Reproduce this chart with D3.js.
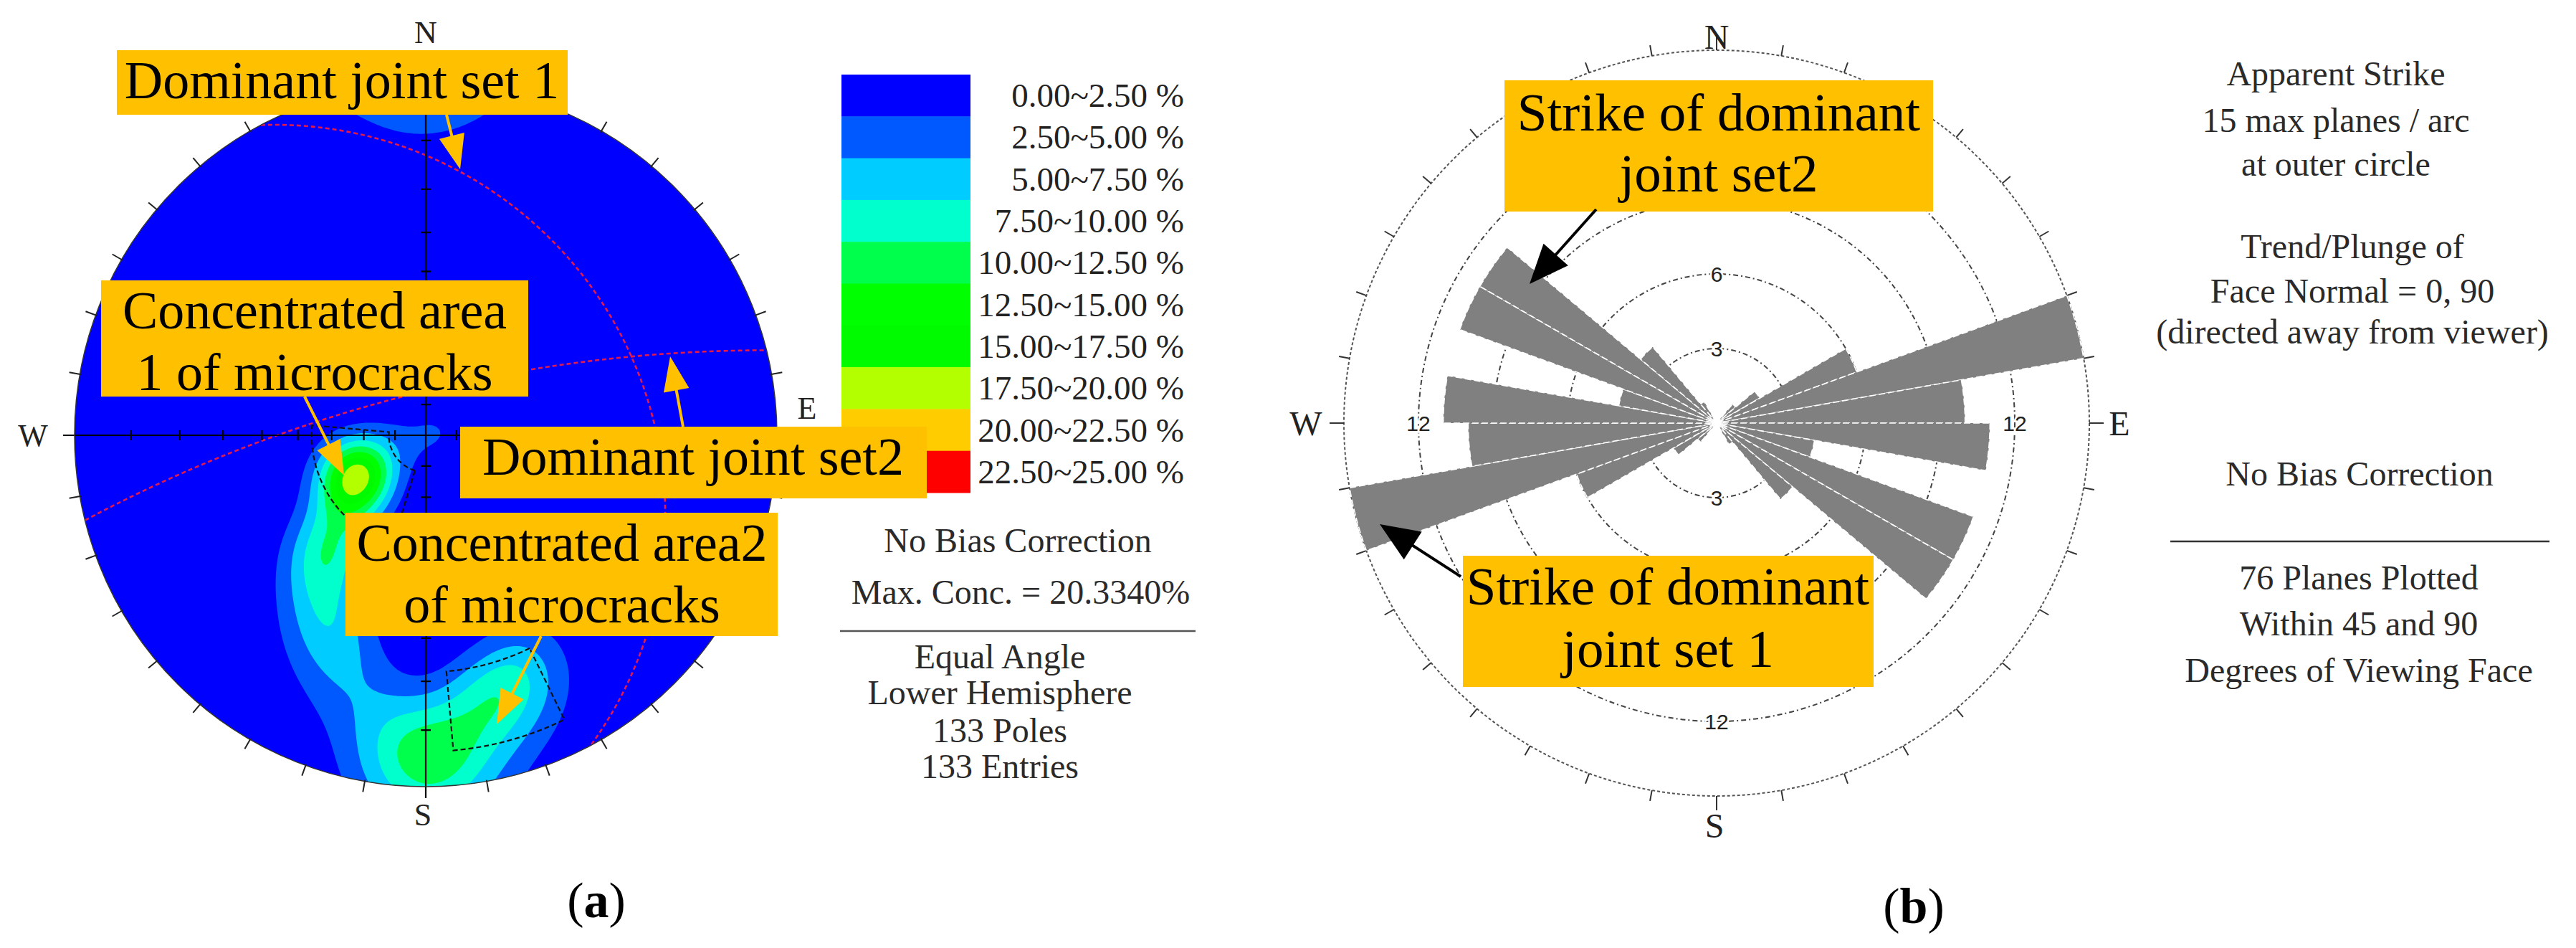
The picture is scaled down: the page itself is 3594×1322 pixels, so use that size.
<!DOCTYPE html>
<html>
<head>
<meta charset="utf-8">
<script src="https://cdn.jsdelivr.net/npm/d3@7"></script>
<style>
  body { margin: 0; background: #fff; }
  svg { display: block; font-family: "Liberation Serif", "Times New Roman", serif; }
</style>
</head>
<body>
<script>
// ---------- (a) pole groups (trend, plunge, weight) ----------
const poleTrend  = [240, 236, 244, 232, 247, 230, 226, 223, 220, 217, 213, 209, 205, 201, 197, 192, 187, 183, 180, 176, 184, 172, 168, 163, 158, 154, 255, 75];
const polePlunge = [ 65,  61,  69,  63,  63,  57,  52,  47,  42,  37,  33,  29,  25,  21,  17,  13,  10,   7,   4,   2,   3,  10,  13,  15,  18,  22,  80, 86];
const poleCount  = [ 12,  11,  10,   6,   6,   5,   4,   7,   9,   5,   5,   5,   5,   4,   3,   3,   3,   3,  12,   5,   3,   5,   7,   8,   6,   3,   4,  5];
const poleTotal = 133;

const levelLabels = ["0.00~2.50 %", "2.50~5.00 %", "5.00~7.50 %", "7.50~10.00 %", "10.00~12.50 %",
                     "12.50~15.00 %", "15.00~17.50 %", "17.50~20.00 %", "20.00~22.50 %", "22.50~25.00 %"];
const levelColors = ["#0000ff", "#0058ff", "#00ccff", "#00ffcc", "#00ff4c",
                     "#00ff00", "#00fa00", "#b3ff00", "#ffcc00", "#ff0000"];
const levelThresholds = [2.5, 5, 7.5, 10, 12.5, 15, 17.5, 20, 22.5];

// dominant joint sets (great circles): dip direction / dip
const planeDipDir = [62, 346];
const planeDip    = [26, 76];

// set windows: trend range, plunge range
const windowTrend  = [[197, 275], [154, 175]];
const windowPlunge = [[54, 78], [6, 22]];

const statsA = ["No Bias Correction", "Max. Conc. = 20.3340%"];
const infoA  = ["Equal Angle", "Lower Hemisphere", "133 Poles", "133 Entries"];

// ---------- (b) rose diagram: planes per 10° strike bin, 0-180 (mirrored) ----------
const roseCounts = [0, 0, 0, 0, 1, 2, 6, 15, 10, 11, 4, 11, 11, 4, 1, 0, 0, 0];
const ringValues = [3, 6, 9, 12];
const ringLabels = [[3, "N"], [6, "N"], [3, "S"], [12, "S"], [12, "W"], [12, "E"]];
const roseMax = 15;

const infoB1 = ["Apparent Strike", "15 max planes / arc", "at outer circle"];
const infoB2 = ["Trend/Plunge of", "Face Normal = 0, 90", "(directed away from viewer)"];
const infoB3 = ["76 Planes Plotted", "Within 45 and 90", "Degrees of Viewing Face"];

const W = 3594, H = 1322, rad = Math.PI / 180;
const svg = d3.select("body").append("svg").attr("width", W).attr("height", H);
svg.append("rect").attr("width", W).attr("height", H).attr("fill", "#fff");
const defs = svg.append("defs");

function arrow(g, x1, y1, x2, y2, color, w, hl, hw) {
  const dx = x2 - x1, dy = y2 - y1, L = Math.hypot(dx, dy), ux = dx / L, uy = dy / L;
  const bx = x2 - ux * hl, by = y2 - uy * hl;
  g.append("line").attr("x1", x1).attr("y1", y1).attr("x2", bx + ux * 4).attr("y2", by + uy * 4)
    .attr("stroke", color).attr("stroke-width", w);
  g.append("path").attr("fill", color)
    .attr("d", `M${x2},${y2}L${bx - uy * hw / 2},${by + ux * hw / 2}L${bx + uy * hw / 2},${by - ux * hw / 2}Z`);
}
function box(g, x, y, w, h, lines, cxT, baselines, size) {
  g.append("rect").attr("x", x).attr("y", y).attr("width", w).attr("height", h).attr("fill", "#ffc000");
  lines.forEach((t, i) => g.append("text").attr("x", cxT).attr("y", baselines[i]).attr("text-anchor", "middle")
    .attr("font-size", size).attr("fill", "#000").text(t));
}

// =================== (a) stereonet ===================
const cx = 594, cy = 607, R = 490;
function proj(t, p) {
  const r = R * Math.tan((90 - p) / 2 * rad);
  return [cx + r * Math.sin(t * rad), cy - r * Math.cos(t * rad)];
}
const A = svg.append("g");
defs.append("clipPath").attr("id", "net").append("circle").attr("cx", cx).attr("cy", cy).attr("r", R);
const net = A.append("g").attr("clip-path", "url(#net)");
net.append("circle").attr("cx", cx).attr("cy", cy).attr("r", R).attr("fill", levelColors[0]);

// Fisher density of axial poles, % per 1% area
const kappa = 60;
const poles = poleTrend.map((t, i) => {
  const p = polePlunge[i] * rad, tr = t * rad;
  return [Math.cos(p) * Math.sin(tr), Math.cos(p) * Math.cos(tr), Math.sin(p), poleCount[i]];
});
const n = 300, ext = R * 1.03, step = 2 * ext / n;
const norm = 100 * kappa / (2 * Math.PI * (1 - Math.exp(-2 * kappa))) * 0.02 * Math.PI / poleTotal;
const grid = new Float64Array(n * n);
for (let j = 0; j < n; j++) {
  for (let i = 0; i < n; i++) {
    const x = (-ext + (i + 0.5) * step) / R, y = (-ext + (j + 0.5) * step) / R;
    const q = x * x + y * y, e = 2 * x / (1 + q), no = -2 * y / (1 + q), dn = (1 - q) / (1 + q);
    let s = 0;
    for (const [pe, pn, pd, c] of poles) {
      const dot = e * pe + no * pn + dn * pd;
      s += c * (Math.exp(kappa * (dot - 1)) + Math.exp(-kappa * (dot + 1)));
    }
    grid[j * n + i] = s * norm;
  }
}
const contours = d3.contours().size([n, n]).thresholds(levelThresholds)(grid);
const cpath = d3.geoPath(d3.geoIdentity().scale(step).translate([cx - ext, cy - ext]));
net.selectAll("path.c").data(contours).join("path").attr("class", "c")
  .attr("d", cpath).attr("fill", (d, i) => levelColors[i + 1]);

// cross hairs with 10° ticks
const cross = A.append("g").attr("stroke", "#000").attr("stroke-width", 2.2);
cross.append("line").attr("x1", cx - R - 16).attr("x2", cx + R + 16).attr("y1", cy).attr("y2", cy);
cross.append("line").attr("x1", cx).attr("x2", cx).attr("y1", cy - R - 16).attr("y2", cy + R + 16);
d3.range(10, 90, 10).forEach(a => {
  const r = R * Math.tan(a / 2 * rad);
  [-1, 1].forEach(sg => {
    cross.append("line").attr("x1", cx + sg * r).attr("x2", cx + sg * r).attr("y1", cy - 7).attr("y2", cy + 7);
    cross.append("line").attr("y1", cy + sg * r).attr("y2", cy + sg * r).attr("x1", cx - 7).attr("x2", cx + 7);
  });
});

// set windows
const line = d3.line();
windowTrend.forEach((tr, k) => {
  const [t1, t2] = tr, [p1, p2] = windowPlunge[k];
  const pts = [];
  d3.range(t1, t2 + 0.01, 1).forEach(t => pts.push(proj(t, p2)));
  d3.range(p2, p1 - 0.01, -1).forEach(p => pts.push(proj(t2, p)));
  d3.range(t2, t1 - 0.01, -1).forEach(t => pts.push(proj(t, p1)));
  d3.range(p1, p2 + 0.01, 1).forEach(p => pts.push(proj(t1, p)));
  net.append("path").attr("d", line(pts) + "Z").attr("fill", "none")
    .attr("stroke", "#111").attr("stroke-width", 2.2).attr("stroke-dasharray", "7,4");
});

// great circles
planeDipDir.forEach((dd, k) => {
  const dip = planeDip[k] * rad, a = dd * rad, s = (dd - 90) * rad;
  const sv = [Math.sin(s), Math.cos(s), 0];
  const dv = [Math.cos(dip) * Math.sin(a), Math.cos(dip) * Math.cos(a), Math.sin(dip)];
  const pts = d3.range(0, 180.01, 1).map(b => {
    const c = Math.cos(b * rad), si = Math.sin(b * rad);
    const v = [c * sv[0] + si * dv[0], c * sv[1] + si * dv[1], c * sv[2] + si * dv[2]];
    const f = R / (1 + Math.max(v[2], 0));
    return [cx + v[0] * f, cy - v[1] * f];
  });
  net.append("path").attr("d", line(pts)).attr("fill", "none")
    .attr("stroke", "#e3194c").attr("stroke-width", 2.6).attr("stroke-dasharray", "6,4");
});

A.append("circle").attr("cx", cx).attr("cy", cy).attr("r", R).attr("fill", "none")
  .attr("stroke", "#333").attr("stroke-width", 1.5);
d3.range(0, 360, 10).filter(a => a % 90).forEach(a => {
  const s = Math.sin(a * rad), c = Math.cos(a * rad);
  A.append("line").attr("x1", cx + s * (R - 2)).attr("y1", cy - c * (R - 2))
    .attr("x2", cx + s * (R + 15)).attr("y2", cy - c * (R + 15)).attr("stroke", "#222").attr("stroke-width", 2);
});
const dirA = A.append("g").attr("font-size", 44).attr("fill", "#222").attr("text-anchor", "middle");
dirA.append("text").attr("x", 46).attr("y", cy + 15).text("W");
dirA.append("text").attr("x", cx).attr("y", 60).text("N");
dirA.append("text").attr("x", cx - 4).attr("y", 1151).text("S");
dirA.append("text").attr("x", 1126).attr("y", 584).text("E");

// legend
const band = d3.scaleBand().domain(levelLabels).range([104, 687]);
const leg = A.append("g");
leg.selectAll("rect").data(levelLabels).join("rect")
  .attr("x", 1174).attr("width", 180).attr("y", d => band(d)).attr("height", band.bandwidth() + 0.5)
  .attr("fill", (d, i) => levelColors[i]);
leg.selectAll("text").data(levelLabels).join("text")
  .attr("x", 1652).attr("y", d => band(d) + band.bandwidth() / 2 + 16).attr("text-anchor", "end")
  .attr("font-size", 47).attr("fill", "#222").text(d => d);
const legInfo = A.append("g").attr("font-size", 48).attr("fill", "#2a2a2a").attr("text-anchor", "middle");
legInfo.append("text").attr("x", 1420).attr("y", 770).text(statsA[0]);
legInfo.append("text").attr("x", 1424).attr("y", 842).text(statsA[1]);
A.append("line").attr("x1", 1172).attr("x2", 1668).attr("y1", 880).attr("y2", 880)
  .attr("stroke", "#555").attr("stroke-width", 2.5);
[932, 982, 1035, 1085].forEach((y, i) => legInfo.append("text").attr("x", 1395).attr("y", y).text(infoA[i]));

// annotations
box(A, 163, 70, 629, 90, ["Dominant joint set 1"], 477, [137], 74);
box(A, 141, 391, 596, 162, ["Concentrated area", "1 of microcracks"], 439, [458, 544], 74);
box(A, 642, 595, 651, 100, ["Dominant joint set2"], 967, [662], 74);
box(A, 482, 715, 603, 172, ["Concentrated area2", "of microcracks"], 784, [782, 868], 74);
arrow(A, 623, 160, 642, 236, "#ffc000", 4, 48, 36);
arrow(A, 425, 553, 480, 663, "#ffc000", 4, 48, 36);
arrow(A, 953, 595, 935, 497, "#ffc000", 4, 48, 36);
arrow(A, 755, 887, 693, 1010, "#ffc000", 4, 48, 36);

// =================== (b) rose diagram ===================
const rcx = 2395, rcy = 590;
const rS = d3.scaleLinear().domain([0, roseMax]).range([0, 520]);
const B = svg.append("g");
const rg = B.append("g").attr("transform", `translate(${rcx},${rcy})`);
rg.selectAll("circle.ring").data(ringValues).join("circle").attr("class", "ring")
  .attr("r", d => rS(d)).attr("fill", "none").attr("stroke", "#444").attr("stroke-width", 2)
  .attr("stroke-dasharray", "7,4,2,4");
rg.append("circle").attr("r", rS(roseMax)).attr("fill", "none").attr("stroke", "#555")
  .attr("stroke-width", 2).attr("stroke-dasharray", "4,3");
d3.range(0, 360, 10).forEach(a => {
  const s = Math.sin(a * rad), c = Math.cos(a * rad), L = a % 90 ? 15 : 20;
  rg.append("line").attr("x1", s * rS(roseMax)).attr("y1", -c * rS(roseMax))
    .attr("x2", s * (rS(roseMax) + L)).attr("y2", -c * (rS(roseMax) + L)).attr("stroke", "#333").attr("stroke-width", 2);
});
const dirVec = { N: [0, -1], S: [0, 1], W: [-1, 0], E: [1, 0] };
rg.append("g").attr("font-family", "Liberation Sans, Arial, sans-serif").attr("font-size", 30)
  .attr("fill", "#222").attr("text-anchor", "middle").attr("dominant-baseline", "central")
  .selectAll("text").data(ringLabels).join("text")
  .attr("x", d => dirVec[d[1]][0] * rS(d[0])).attr("y", d => dirVec[d[1]][1] * rS(d[0]))
  .attr("stroke", "#fff").attr("stroke-width", 5).attr("paint-order", "stroke").text(d => d[0]);
const bins = d3.range(36).map(i => ({ a0: i * 10, count: roseCounts[i % 18] })).filter(d => d.count > 0);
const arc = d3.arc().innerRadius(7).outerRadius(d => rS(d.count))
  .startAngle(d => d.a0 * rad).endAngle(d => (d.a0 + 10) * rad);
rg.selectAll("path.bar").data(bins).join("path").attr("class", "bar").attr("d", arc)
  .attr("fill", "#808080").attr("stroke", "#fff").attr("stroke-width", 1.6).attr("stroke-dasharray", "9,4");

const dirB = B.append("g").attr("font-size", 48).attr("fill", "#222").attr("text-anchor", "middle");
dirB.append("text").attr("x", rcx).attr("y", 68).text("N");
dirB.append("text").attr("x", rcx - 3).attr("y", 1168).text("S");
dirB.append("text").attr("x", 1822).attr("y", rcy + 17).text("W");
dirB.append("text").attr("x", 2957).attr("y", rcy + 17).text("E");

box(B, 2099, 112, 598, 183, ["Strike of dominant", "joint set2"], 2398, [182, 267], 75);
box(B, 2041, 775, 573, 183, ["Strike of dominant", "joint set 1"], 2327, [843, 930], 75);
arrow(B, 2227, 292, 2134, 396, "#000", 4, 55, 46);
arrow(B, 2038, 804, 1925, 731, "#000", 4, 55, 46);

const infoB = B.append("g").attr("font-size", 48).attr("fill", "#2a2a2a").attr("text-anchor", "middle");
[119, 184, 245].forEach((y, i) => infoB.append("text").attr("x", 3259).attr("y", y).text(infoB1[i]));
[360, 422, 479].forEach((y, i) => infoB.append("text").attr("x", 3282).attr("y", y).text(infoB2[i]));
infoB.append("text").attr("x", 3292).attr("y", 677).text("No Bias Correction");
B.append("line").attr("x1", 3028).attr("x2", 3557).attr("y1", 755).attr("y2", 755)
  .attr("stroke", "#333").attr("stroke-width", 2.5);
[822, 886, 951].forEach((y, i) => infoB.append("text").attr("x", 3291).attr("y", y).text(infoB3[i]));

// captions
const cap = svg.append("g").attr("font-size", 70).attr("fill", "#000").attr("text-anchor", "middle");
const ca = cap.append("text").attr("x", 832).attr("y", 1279);
ca.append("tspan").text("("); ca.append("tspan").attr("font-weight", "bold").text("a"); ca.append("tspan").text(")");
const cb = cap.append("text").attr("x", 2670).attr("y", 1287);
cb.append("tspan").text("("); cb.append("tspan").attr("font-weight", "bold").text("b"); cb.append("tspan").text(")");
</script>
</body>
</html>
